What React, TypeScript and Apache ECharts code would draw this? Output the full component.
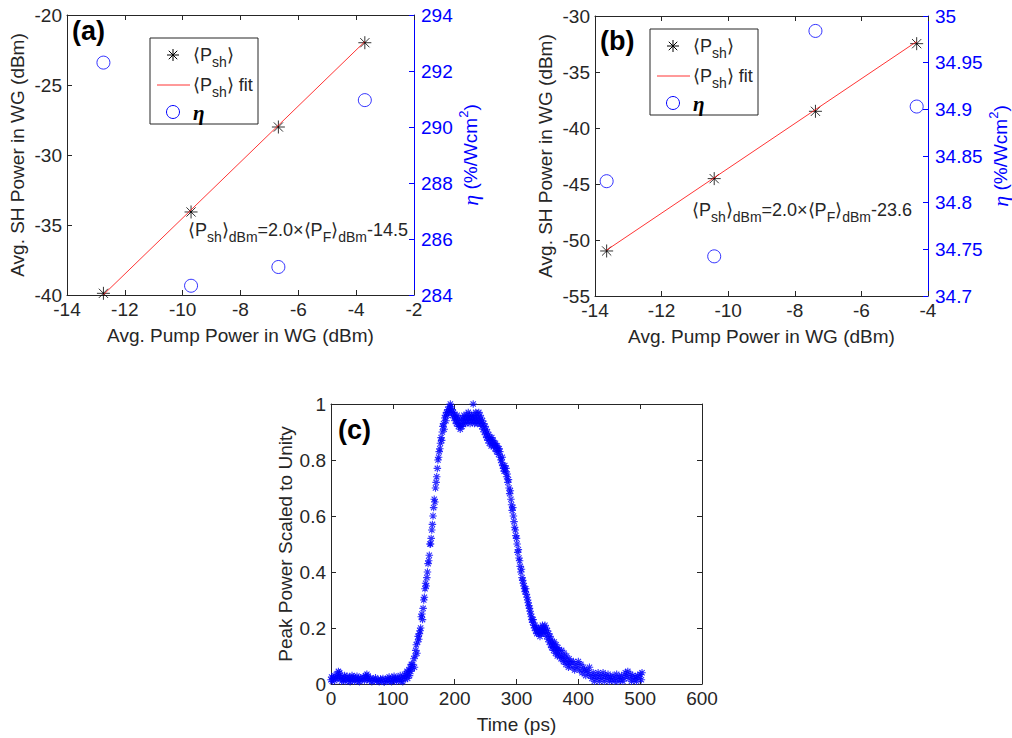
import React, { useEffect, useRef } from 'react';
import * as echarts from 'echarts';

// ---------- Data ----------
// Panel (a)
const aPump = [-12.74, -9.71, -6.69, -3.7];
const aSH = [-39.88, -34.07, -28.0, -21.98];
const aEta = [292.3, 284.33, 285.0, 290.96];
const aFitX = [-12.74, -3.7];
const aFitY = [-39.98, -21.9];
// Panel (b)
const bPump = [-13.65, -10.42, -7.38, -4.34];
const bSH = [-50.98, -44.52, -38.51, -32.47];
const bEta = [34.823, 34.7425, 34.984, 34.903];
const bFitX = [-13.65, -4.34];
const bFitY = [-50.9, -32.28];
// Axis ranges [min, max, interval]
const aXRange = [-14, -2, 2];
const aYRange = [-40, -20, 5];
const aY2Range = [284, 294, 2];
const bXRange = [-14, -4, 2];
const bYRange = [-55, -30, 5];
const bY2Range = [34.7, 35, 0.05];
const cXRange = [0, 600, 100];
const cYRange = [0, 1, 0.2];
// Panel (c): [time (ps), normalized peak power]
const pulseBase: [number, number][] = [
  [0, 0.015], [1, 0.025], [2, 0.01], [4, 0.02], [5, 0.03], [6, 0.012], [8, 0.022], [10, 0.035], [11, 0.02], [12, 0.045],
  [13, 0.03], [14, 0.04], [16, 0.02], [17, 0.01], [18, 0.025], [20, 0.015], [22, 0.03], [23, 0.01], [24, 0.02], [26, 0.028],
  [28, 0.012], [30, 0.022], [31, 0.008], [32, 0.018], [34, 0.03], [35, 0.015], [36, 0.025], [38, 0.01], [40, 0.02], [42, 0.028],
  [43, 0.012], [44, 0.018], [46, 0.008], [48, 0.022], [50, 0.015], [52, 0.025], [54, 0.012], [56, 0.03], [57, 0.02], [58, 0.035],
  [59, 0.018], [60, 0.028], [62, 0.012], [64, 0.02], [66, 0.008], [68, 0.018], [70, 0.012], [72, 0.022], [74, 0.01], [76, 0.015],
  [78, 0.008], [80, 0.018], [82, 0.01], [84, 0.02], [86, 0.006], [88, 0.015], [90, 0.01], [92, 0.02], [94, 0.025], [95, 0.01],
  [96, 0.015], [98, 0.008], [100, 0.02], [102, 0.028], [103, 0.012], [104, 0.018], [106, 0.01], [108, 0.022], [110, 0.015], [112, 0.03],
  [113, 0.01], [114, 0.02], [116, 0.008], [118, 0.025], [119, 0.035], [120, 0.018], [122, 0.03], [123, 0.045], [124, 0.02], [125, 0.04],
  [126, 0.05], [127, 0.03], [128, 0.06], [129, 0.045], [130, 0.07], [131, 0.055],
];
const pulseRise: [number, number][] = [
  [132, 0.07], [134, 0.09], [135, 0.06], [136, 0.1], [137, 0.12], [138, 0.14], [139, 0.11], [140, 0.15], [141, 0.17], [142, 0.16],
  [143, 0.18], [144, 0.19], [145, 0.2], [146, 0.24], [147, 0.25], [148, 0.23], [149, 0.27], [150, 0.3], [151, 0.31], [152, 0.34],
  [153, 0.36], [154, 0.35], [155, 0.38], [156, 0.4], [157, 0.43], [158, 0.44], [159, 0.46], [160, 0.5], [161, 0.5], [162, 0.52],
  [163, 0.55], [164, 0.57], [165, 0.6], [166, 0.63], [167, 0.66], [168, 0.65], [169, 0.7], [170, 0.72], [171, 0.74], [172, 0.77],
  [173, 0.8], [174, 0.81], [175, 0.83], [176, 0.84], [177, 0.86], [178, 0.88], [179, 0.87], [180, 0.9], [181, 0.92], [182, 0.93],
  [183, 0.91], [184, 0.95], [185, 0.96], [186, 0.94], [187, 0.97], [188, 0.96], [189, 0.98], [190, 0.97], [191, 0.99], [192, 0.98],
  [193, 1.0], [194, 0.99], [195, 0.97], [196, 0.98], [197, 0.96], [198, 0.97], [199, 0.95],
];
const pulseTop: [number, number][] = [
  [200, 0.96], [201, 0.94], [202, 0.95], [203, 0.93], [204, 0.96], [205, 0.94], [206, 0.92], [207, 0.95], [208, 0.93], [209, 0.91],
  [210, 0.92], [211, 0.94], [212, 0.92], [213, 0.95], [214, 0.93], [215, 0.96], [216, 0.94], [217, 0.95], [218, 0.93], [219, 0.96],
  [220, 0.94], [221, 0.95], [222, 0.97], [223, 0.94], [224, 0.96], [225, 0.93], [226, 0.95], [227, 0.96], [228, 0.94], [229, 0.95],
  [230, 1.0], [230, 0.94], [231, 0.96], [232, 0.93], [233, 0.95], [234, 0.97], [235, 0.94], [236, 0.96], [237, 0.93], [238, 0.95],
  [239, 0.97], [240, 0.94], [241, 0.96], [242, 0.93], [243, 0.95], [244, 0.92], [245, 0.94], [246, 0.91], [247, 0.93], [248, 0.9],
  [249, 0.92], [250, 0.89], [251, 0.91], [252, 0.88], [253, 0.9], [254, 0.87], [255, 0.89], [256, 0.86], [257, 0.88], [258, 0.87],
  [259, 0.85], [260, 0.88], [261, 0.86], [262, 0.87], [263, 0.85], [264, 0.86], [265, 0.84], [266, 0.86], [267, 0.85], [268, 0.83],
  [269, 0.85], [270, 0.84], [271, 0.82], [272, 0.84], [273, 0.83], [274, 0.81], [275, 0.8], [276, 0.79], [277, 0.81], [278, 0.78],
  [279, 0.77], [280, 0.76],
];
const pulseFall: [number, number][] = [
  [281, 0.78], [282, 0.76], [283, 0.77], [284, 0.74], [285, 0.75], [286, 0.72], [287, 0.73], [288, 0.7], [289, 0.68], [290, 0.69],
  [291, 0.66], [292, 0.64], [293, 0.62], [294, 0.63], [295, 0.6], [296, 0.58], [297, 0.56], [298, 0.55], [299, 0.53], [300, 0.52],
  [301, 0.5], [302, 0.47], [303, 0.48], [304, 0.45], [305, 0.44], [306, 0.42], [307, 0.4], [308, 0.41], [309, 0.38], [310, 0.37],
  [311, 0.36], [312, 0.35], [313, 0.34], [314, 0.33], [315, 0.34], [316, 0.32], [317, 0.31], [318, 0.3], [319, 0.29], [320, 0.28],
  [321, 0.27], [322, 0.26], [323, 0.25], [324, 0.24], [325, 0.23], [326, 0.22], [327, 0.23], [328, 0.21], [329, 0.2], [330, 0.21],
  [331, 0.19], [332, 0.2], [333, 0.18], [334, 0.19], [335, 0.2], [336, 0.18], [337, 0.19], [338, 0.17], [339, 0.2], [340, 0.18],
  [341, 0.19], [342, 0.21], [343, 0.19], [344, 0.2], [345, 0.18], [346, 0.21], [347, 0.19], [348, 0.2], [349, 0.17], [350, 0.19],
  [351, 0.16], [352, 0.18], [353, 0.15], [354, 0.17], [355, 0.14], [356, 0.16], [357, 0.13], [358, 0.15], [359, 0.14], [360, 0.12],
  [361, 0.15], [362, 0.13], [363, 0.11], [364, 0.14], [365, 0.12], [366, 0.1], [367, 0.13], [368, 0.11], [369, 0.12], [370, 0.1],
];
const pulseTail: [number, number][] = [
  [372, 0.09], [373, 0.12], [374, 0.1], [376, 0.08], [377, 0.11], [378, 0.09], [380, 0.07], [381, 0.1], [382, 0.08], [384, 0.06],
  [385, 0.09], [386, 0.07], [388, 0.08], [390, 0.06], [392, 0.08], [394, 0.05], [396, 0.07], [398, 0.06], [400, 0.08], [402, 0.05],
  [404, 0.07], [406, 0.04], [408, 0.06], [410, 0.05], [412, 0.03], [414, 0.05], [416, 0.04], [418, 0.06], [420, 0.03], [422, 0.02],
  [424, 0.04], [426, 0.01], [428, 0.03], [430, 0.02], [432, 0.04], [434, 0.01], [436, 0.03], [438, 0.02], [440, 0.04], [442, 0.01],
  [444, 0.03], [446, 0.02], [448, 0.035], [450, 0.01], [452, 0.025], [454, 0.015], [456, 0.03], [458, 0.01], [460, 0.02], [462, 0.035],
  [464, 0.01], [466, 0.025], [468, 0.015], [470, 0.03], [472, 0.01], [474, 0.02], [476, 0.04], [478, 0.03], [480, 0.045], [482, 0.02],
  [484, 0.035], [486, 0.01], [488, 0.03], [490, 0.015], [492, 0.025], [494, 0.01], [496, 0.03], [498, 0.02], [500, 0.035], [502, 0.015],
  [503, 0.04],
];

// ---------- Styles ----------
const FONT = '"Liberation Sans", Arial, Helvetica, sans-serif';
const SERIF = '"Liberation Serif", "Times New Roman", serif';
const AX = '#262626';
const BLUE = '#0000ff';
const RED = '#ff0000';
const ASTERISK = 'path://M0,5L10,5M5,0L5,10M1.46,1.46L8.54,8.54M1.46,8.54L8.54,1.46';
const TICK_FS = 19;
const TITLE_FS = 19;

const subRich = {
  s: { fontSize: 14, fontFamily: FONT, verticalAlign: 'bottom', lineHeight: 13, fill: AX, color: AX },
};

function xAxes(grid: number, r: number[], name: string) {
  return [
    {
      type: 'value', gridIndex: grid, position: 'bottom', min: r[0], max: r[1], interval: r[2],
      name, nameLocation: 'middle', nameGap: 31,
      nameTextStyle: { fontFamily: FONT, fontSize: TITLE_FS, color: AX },
      axisLine: { onZero: false, lineStyle: { color: AX, width: 1 } },
      axisTick: { inside: true, length: 5, lineStyle: { color: AX } },
      axisLabel: { fontFamily: FONT, fontSize: TICK_FS, color: AX, margin: 5 },
      splitLine: { show: false },
    },
    {
      type: 'value', gridIndex: grid, position: 'top', min: r[0], max: r[1], interval: r[2],
      axisLine: { onZero: false, lineStyle: { color: AX, width: 1 } },
      axisTick: { inside: true, length: 5, lineStyle: { color: AX } },
      axisLabel: { show: false },
      splitLine: { show: false },
    },
  ];
}

function leftY(grid: number, r: number[], name: string, gap: number) {
  return {
    type: 'value', gridIndex: grid, position: 'left', min: r[0], max: r[1], interval: r[2],
    name, nameLocation: 'middle', nameGap: gap, nameRotate: 90,
    nameTextStyle: { fontFamily: FONT, fontSize: TITLE_FS, color: AX },
    axisLine: { show: true, onZero: false, lineStyle: { color: AX, width: 1 } },
    axisTick: { show: true, inside: true, length: 5, lineStyle: { color: AX } },
    axisLabel: { fontFamily: FONT, fontSize: TICK_FS, color: AX, margin: 5 },
    splitLine: { show: false },
  };
}

function etaY(grid: number, r: number[], gap: number) {
  return {
    type: 'value', gridIndex: grid, position: 'right', min: r[0], max: r[1], interval: r[2],
    name: '{i|η} (%/Wcm{sup|2})', nameLocation: 'middle', nameGap: gap, nameRotate: 90,
    nameTextStyle: {
      fontFamily: FONT, fontSize: TITLE_FS, color: BLUE, lineHeight: 26,
      rich: {
        i: { fontFamily: SERIF, fontStyle: 'italic', fontSize: 22, color: BLUE, lineHeight: 26 },
        sup: { fontFamily: FONT, fontSize: 13, color: BLUE, verticalAlign: 'top', lineHeight: 13 },
      },
    },
    axisLine: { show: true, onZero: false, lineStyle: { color: BLUE, width: 1 } },
    axisTick: { show: true, inside: true, length: 5, lineStyle: { color: BLUE } },
    axisLabel: {
      fontFamily: FONT, fontSize: TICK_FS, color: BLUE, margin: 7,
      formatter: (v: number) => String(+v.toFixed(2)),
    },
    splitLine: { show: false },
  };
}

function zip(x: number[], y: number[]) {
  return x.map((v, i) => [v, y[i]]);
}

function legendStar(cx: number, cy: number, h: number) {
  const d = h * 0.707;
  const seg = (x1: number, y1: number, x2: number, y2: number) => ({
    type: 'line', shape: { x1, y1, x2, y2 }, style: { stroke: '#000', lineWidth: 1 },
  });
  return [
    seg(cx - h, cy, cx + h, cy),
    seg(cx, cy - h, cx, cy + h),
    seg(cx - d, cy - d, cx + d, cy + d),
    seg(cx - d, cy + d, cx + d, cy - d),
  ];
}

function richText(x: number, y: number, text: string, extra: any = {}) {
  return {
    type: 'text', x, y,
    style: {
      text, fontFamily: FONT, fontSize: 18, fill: AX, lineHeight: 28,
      verticalAlign: 'middle', align: 'left', rich: subRich, ...extra,
    },
  };
}

function legend(x: number, y: number) {
  return [
    {
      type: 'rect', shape: { x, y, width: 108, height: 86 },
      style: { fill: '#ffffff', stroke: AX, lineWidth: 1 },
    },
    ...legendStar(x + 23, y + 17, 6),
    richText(x + 43, y + 17, '⟨P{s|sh}⟩'),
    { type: 'line', shape: { x1: x + 7, y1: y + 47, x2: x + 40, y2: y + 47 }, style: { stroke: RED, lineWidth: 0.8 } },
    richText(x + 43, y + 47, '⟨P{s|sh}⟩ fit'),
    { type: 'circle', shape: { cx: x + 23, cy: y + 74, r: 6.5 }, style: { fill: 'none', stroke: BLUE, lineWidth: 1 } },
    {
      type: 'text', x: x + 43, y: y + 75,
      style: {
        text: 'η', fontFamily: SERIF, fontStyle: 'italic', fontWeight: 'bold', fontSize: 21,
        fill: '#000', verticalAlign: 'middle', align: 'left',
      },
    },
  ];
}

function panelLabel(x: number, y: number, t: string) {
  return {
    type: 'text', x, y,
    style: { text: t, fontFamily: FONT, fontWeight: 'bold', fontSize: 27, fill: '#000', verticalAlign: 'middle' },
  };
}

const starItem = { color: 'transparent', borderColor: '#000', borderWidth: 1 };

export default function App() {
  const ref = useRef<HTMLDivElement>(null);
  useEffect(() => {
    if (!ref.current) return;
    const chart = echarts.init(ref.current, null, { renderer: 'svg' });
    const pulse = [...pulseBase, ...pulseRise, ...pulseTop, ...pulseFall, ...pulseTail];
    const option: any = {
      animation: false,
      backgroundColor: '#ffffff',
      grid: [
        { left: 67, top: 15, width: 347, height: 280, outerBoundsMode: 'none' },
        { left: 595, top: 16, width: 333, height: 280, outerBoundsMode: 'none' },
        { left: 331, top: 404, width: 371, height: 280, outerBoundsMode: 'none' },
      ],
      xAxis: [
        ...xAxes(0, aXRange, 'Avg. Pump Power in WG (dBm)'),
        ...xAxes(1, bXRange, 'Avg. Pump Power in WG (dBm)'),
        ...xAxes(2, cXRange, 'Time (ps)'),
      ],
      yAxis: [
        leftY(0, aYRange, 'Avg. SH Power in WG (dBm)', 40),
        etaY(0, aY2Range, 43),
        leftY(1, bYRange, 'Avg. SH Power in WG (dBm)', 40),
        etaY(1, bY2Range, 59),
        leftY(2, cYRange, 'Peak Power Scaled to Unity', 36),
        {
          type: 'value', gridIndex: 2, position: 'right', min: cYRange[0], max: cYRange[1], interval: cYRange[2],
          axisLine: { show: true, onZero: false, lineStyle: { color: AX, width: 1 } },
          axisTick: { show: true, inside: true, length: 5, lineStyle: { color: AX } },
          axisLabel: { show: false },
          splitLine: { show: false },
        },
      ],
      series: [
        {
          type: 'line', xAxisIndex: 0, yAxisIndex: 0, data: zip(aFitX, aFitY), showSymbol: false,
          lineStyle: { color: RED, width: 0.8 }, silent: true,
        },
        {
          type: 'scatter', xAxisIndex: 0, yAxisIndex: 0, data: zip(aPump, aSH), symbol: ASTERISK, symbolSize: 13,
          itemStyle: starItem, silent: true,
        },
        {
          type: 'scatter', xAxisIndex: 0, yAxisIndex: 1, data: zip(aPump, aEta), symbol: 'circle', symbolSize: 13,
          itemStyle: { color: 'transparent', borderColor: BLUE, borderWidth: 1 }, silent: true,
        },
        {
          type: 'line', xAxisIndex: 2, yAxisIndex: 2, data: zip(bFitX, bFitY), showSymbol: false,
          lineStyle: { color: RED, width: 0.8 }, silent: true,
        },
        {
          type: 'scatter', xAxisIndex: 2, yAxisIndex: 2, data: zip(bPump, bSH), symbol: ASTERISK, symbolSize: 13,
          itemStyle: starItem, silent: true,
        },
        {
          type: 'scatter', xAxisIndex: 2, yAxisIndex: 3, data: zip(bPump, bEta), symbol: 'circle', symbolSize: 13,
          itemStyle: { color: 'transparent', borderColor: BLUE, borderWidth: 1 }, silent: true,
        },
        {
          type: 'scatter', xAxisIndex: 4, yAxisIndex: 4, data: pulse, symbol: ASTERISK, symbolSize: 7.5,
          itemStyle: { color: 'transparent', borderColor: BLUE, borderWidth: 1.1 }, silent: true, clip: false,
        },
      ],
      graphic: [
        ...legend(150, 38),
        ...legend(650, 29),
        panelLabel(72, 31, '(a)'),
        panelLabel(600, 41, '(b)'),
        panelLabel(338, 430, '(c)'),
        richText(188, 230, '⟨P{s|sh}⟩{s|dBm}=2.0×⟨P{s|F}⟩{s|dBm}-14.5'),
        richText(692, 210, '⟨P{s|sh}⟩{s|dBm}=2.0×⟨P{s|F}⟩{s|dBm}-23.6'),
      ],
    };
    chart.setOption(option);
    return () => chart.dispose();
  }, []);
  return (
    <div
      ref={ref}
      style={{ position: 'absolute', left: 0, top: 0, width: 1012, height: 738, background: '#fff' }}
    />
  );
}
